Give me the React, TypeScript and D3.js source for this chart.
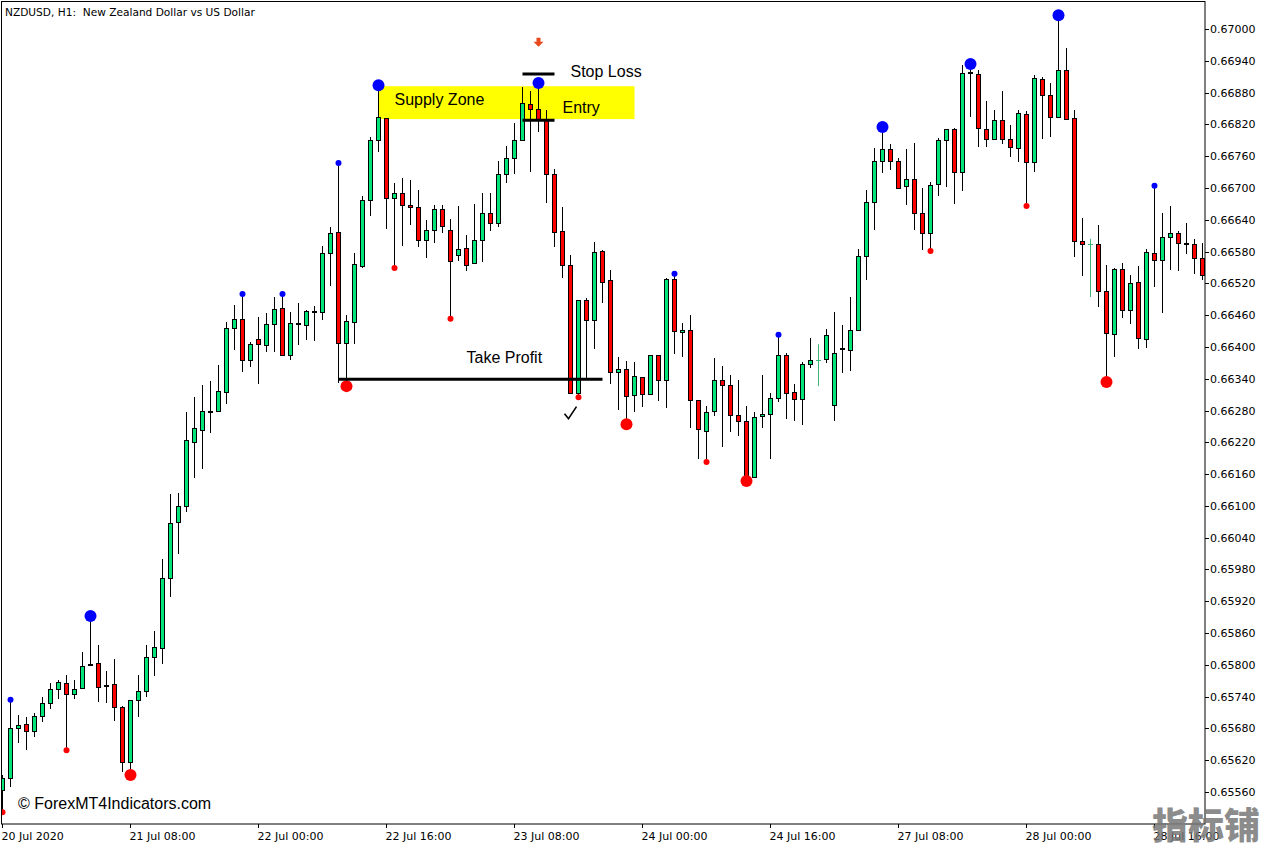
import React from "react";
import * as d3 from "d3";

// NZDUSD H1 candles
const opens = [0.65564, 0.65586, 0.65681, 0.65688, 0.65675, 0.65703, 0.65728, 0.65754, 0.65766, 0.65745, 0.65756, 0.65800, 0.65803, 0.65760, 0.65764, 0.65720, 0.65617, 0.65734, 0.65751, 0.65815, 0.65832, 0.65964, 0.66070, 0.66100, 0.66221, 0.66243, 0.66277, 0.66279, 0.66315, 0.66436, 0.66453, 0.66375, 0.66415, 0.66404, 0.66443, 0.66473, 0.66385, 0.66443, 0.66441, 0.66466, 0.66466, 0.66577, 0.66617, 0.66407, 0.66447, 0.66553, 0.66677, 0.66790, 0.66832, 0.66681, 0.66690, 0.66668, 0.66664, 0.66602, 0.66621, 0.66660, 0.66621, 0.66573, 0.66587, 0.66558, 0.66602, 0.66653, 0.66634, 0.66726, 0.66757, 0.66790, 0.66858, 0.66849, 0.66828, 0.66726, 0.66619, 0.66555, 0.66313, 0.66489, 0.66451, 0.66581, 0.66526, 0.66353, 0.66358, 0.66309, 0.66343, 0.66311, 0.66385, 0.66338, 0.66528, 0.66428, 0.66432, 0.66300, 0.66241, 0.66279, 0.66338, 0.66328, 0.66272, 0.66260, 0.66154, 0.66270, 0.66274, 0.66304, 0.66385, 0.66315, 0.66302, 0.66368, 0.66375, 0.66377, 0.66290, 0.66396, 0.66394, 0.66432, 0.66572, 0.66673, 0.66751, 0.66773, 0.66751, 0.66704, 0.66717, 0.66653, 0.66615, 0.66708, 0.66790, 0.66811, 0.66730, 0.66917, 0.66915, 0.66811, 0.66792, 0.66828, 0.66792, 0.66775, 0.66840, 0.66749, 0.66906, 0.66875, 0.66834, 0.66923, 0.66832, 0.66600, 0.66594, 0.66594, 0.66505, 0.66424, 0.66547, 0.66470, 0.66522, 0.66415, 0.66577, 0.66564, 0.66607, 0.66615, 0.66594, 0.66594, 0.66568];
const highs = [0.65592, 0.65734, 0.65705, 0.65701, 0.65709, 0.65739, 0.65766, 0.65771, 0.65781, 0.65771, 0.65824, 0.65892, 0.65837, 0.65788, 0.65811, 0.65722, 0.65734, 0.65781, 0.65837, 0.65864, 0.66000, 0.66122, 0.66124, 0.66277, 0.66305, 0.66328, 0.66336, 0.66366, 0.66447, 0.66479, 0.66500, 0.66409, 0.66456, 0.66464, 0.66494, 0.66500, 0.66466, 0.66483, 0.66470, 0.66477, 0.66590, 0.66626, 0.66747, 0.66460, 0.66577, 0.66685, 0.66796, 0.66894, 0.66832, 0.66709, 0.66719, 0.66715, 0.66696, 0.66640, 0.66668, 0.66668, 0.66641, 0.66666, 0.66611, 0.66670, 0.66690, 0.66690, 0.66751, 0.66779, 0.66823, 0.66891, 0.66883, 0.66898, 0.66847, 0.66736, 0.66664, 0.66573, 0.66489, 0.66492, 0.66598, 0.66583, 0.66545, 0.66381, 0.66373, 0.66372, 0.66343, 0.66385, 0.66385, 0.66530, 0.66538, 0.66445, 0.66460, 0.66300, 0.66289, 0.66379, 0.66364, 0.66347, 0.66338, 0.66289, 0.66277, 0.66347, 0.66313, 0.66423, 0.66389, 0.66330, 0.66372, 0.66417, 0.66405, 0.66434, 0.66466, 0.66441, 0.66494, 0.66585, 0.66696, 0.66775, 0.66815, 0.66783, 0.66757, 0.66774, 0.66785, 0.66700, 0.66711, 0.66794, 0.66811, 0.66813, 0.66932, 0.66934, 0.66923, 0.66864, 0.66847, 0.66883, 0.66819, 0.66847, 0.66845, 0.66913, 0.66909, 0.66898, 0.67026, 0.66964, 0.66847, 0.66643, 0.66604, 0.66630, 0.66555, 0.66549, 0.66558, 0.66536, 0.66553, 0.66585, 0.66704, 0.66653, 0.66666, 0.66619, 0.66634, 0.66604, 0.66596];
const lows = [0.65522, 0.65569, 0.65652, 0.65639, 0.65664, 0.65692, 0.65717, 0.65736, 0.65639, 0.65736, 0.65756, 0.65798, 0.65730, 0.65728, 0.65694, 0.65598, 0.65592, 0.65701, 0.65739, 0.65779, 0.65802, 0.65928, 0.66009, 0.66088, 0.66153, 0.66170, 0.66238, 0.66277, 0.66292, 0.66394, 0.66353, 0.66362, 0.66330, 0.66390, 0.66390, 0.66385, 0.66375, 0.66404, 0.66413, 0.66411, 0.66451, 0.66515, 0.66332, 0.66326, 0.66405, 0.66549, 0.66647, 0.66768, 0.66623, 0.66549, 0.66590, 0.66630, 0.66588, 0.66568, 0.66596, 0.66615, 0.66453, 0.66562, 0.66543, 0.66558, 0.66560, 0.66619, 0.66626, 0.66709, 0.66726, 0.66790, 0.66730, 0.66806, 0.66672, 0.66588, 0.66530, 0.66313, 0.66305, 0.66339, 0.66396, 0.66483, 0.66330, 0.66281, 0.66254, 0.66277, 0.66287, 0.66311, 0.66298, 0.66285, 0.66387, 0.66381, 0.66247, 0.66189, 0.66183, 0.66270, 0.66211, 0.66239, 0.66232, 0.66147, 0.66154, 0.66247, 0.66189, 0.66296, 0.66264, 0.66260, 0.66253, 0.66360, 0.66326, 0.66370, 0.66260, 0.66351, 0.66355, 0.66430, 0.66526, 0.66621, 0.66728, 0.66734, 0.66700, 0.66668, 0.66621, 0.66583, 0.66581, 0.66685, 0.66702, 0.66670, 0.66694, 0.66834, 0.66777, 0.66777, 0.66792, 0.66783, 0.66758, 0.66749, 0.66666, 0.66730, 0.66792, 0.66796, 0.66834, 0.66828, 0.66570, 0.66534, 0.66494, 0.66475, 0.66334, 0.66381, 0.66455, 0.66443, 0.66396, 0.66398, 0.66513, 0.66464, 0.66545, 0.66543, 0.66575, 0.66538, 0.66526];
const closes = [0.65586, 0.65681, 0.65686, 0.65675, 0.65703, 0.65728, 0.65754, 0.65768, 0.65745, 0.65754, 0.65798, 0.65799, 0.65758, 0.65760, 0.65720, 0.65617, 0.65734, 0.65751, 0.65815, 0.65834, 0.65964, 0.66068, 0.66100, 0.66224, 0.66247, 0.66279, 0.66277, 0.66317, 0.66436, 0.66453, 0.66375, 0.66405, 0.66405, 0.66443, 0.66472, 0.66385, 0.66445, 0.66443, 0.66468, 0.66466, 0.66577, 0.66615, 0.66407, 0.66449, 0.66556, 0.66677, 0.66790, 0.66834, 0.66681, 0.66690, 0.66668, 0.66664, 0.66602, 0.66621, 0.66660, 0.66628, 0.66562, 0.66585, 0.66555, 0.66602, 0.66653, 0.66634, 0.66726, 0.66757, 0.66790, 0.66860, 0.66849, 0.66828, 0.66726, 0.66617, 0.66555, 0.66313, 0.66489, 0.66451, 0.66579, 0.66522, 0.66353, 0.66358, 0.66307, 0.66345, 0.66311, 0.66385, 0.66338, 0.66528, 0.66430, 0.66432, 0.66300, 0.66245, 0.66277, 0.66338, 0.66328, 0.66272, 0.66260, 0.66154, 0.66268, 0.66274, 0.66304, 0.66385, 0.66313, 0.66302, 0.66368, 0.66375, 0.66375, 0.66422, 0.66388, 0.66396, 0.66432, 0.66572, 0.66673, 0.66751, 0.66774, 0.66751, 0.66700, 0.66717, 0.66653, 0.66615, 0.66706, 0.66790, 0.66811, 0.66730, 0.66917, 0.66917, 0.66813, 0.66792, 0.66828, 0.66792, 0.66777, 0.66841, 0.66749, 0.66908, 0.66875, 0.66834, 0.66923, 0.66830, 0.66600, 0.66594, 0.66594, 0.66506, 0.66426, 0.66547, 0.66470, 0.66520, 0.66417, 0.66579, 0.66564, 0.66607, 0.66615, 0.66596, 0.66594, 0.66568, 0.66536];

// bars drawn as thin green crosses (no body outline)
const thinDoji = [102, 136];

// swing markers (bar indexes)
const smallBlue = [1, 30, 35, 42, 84, 97, 144];
const bigBlue = [11, 47, 67, 110, 121, 132];
const smallRed = [0, 8, 49, 56, 72, 88, 116, 128];
const bigRed = [16, 43, 78, 93, 138];

// axis labels
const priceTicks = [0.65560, 0.65620, 0.65680, 0.65740, 0.65800, 0.65860, 0.65920, 0.65980, 0.66040, 0.66100, 0.66160, 0.66220, 0.66280, 0.66340, 0.66400, 0.66460, 0.66520, 0.66580, 0.66640, 0.66700, 0.66760, 0.66820, 0.66880, 0.66940, 0.67000];
const timeBars = [0, 16, 32, 48, 64, 80, 96, 112, 128, 144];
const timeLabels = ["20 Jul 2020", "21 Jul 08:00", "22 Jul 00:00", "22 Jul 16:00", "23 Jul 08:00", "24 Jul 00:00", "24 Jul 16:00", "27 Jul 08:00", "28 Jul 00:00", "28 Jul 16:00"];

// trade setup
const zoneTop = 0.66892;
const zoneBottom = 0.66830;
const zoneBars = [47, 79];
const stopLoss = 0.66915;
const entry = 0.66828;
const slBars = [65, 69];
const takeProfit = 0.66339;
const tpBars = [42, 75];
const arrowBar = 67;
const arrowPrice = 0.66974;
const checkBar = 71;
const checkPrice = 0.66274;

const W = 1275;
const H = 848;
const right = 1205;
const bottom = 824;

const bull = "#00E676";
const bear = "#FF0000";
const axisFont = "'DejaVu Sans', sans-serif";
const labelFont = "'Liberation Sans', Arial, sans-serif";

const App: React.FC = () => {
  const x = d3.scaleLinear().domain([0, 150]).range([2.5, 1202.5]);
  const y = d3.scaleLinear().domain([0.6556, 0.67]).range([792, 29]);

  const candles = opens.map((o, i) => ({ i, o, h: highs[i], l: lows[i], c: closes[i] }));

  return (
    <svg width={W} height={H} style={{ position: "absolute", left: 0, top: 0, background: "#fff" }}>
      <rect x={0} y={0} width={W} height={H} fill="#fff" />

      {/* supply zone */}
      <rect
        x={x(zoneBars[0])}
        y={y(zoneTop)}
        width={x(zoneBars[1]) - x(zoneBars[0])}
        height={y(zoneBottom) - y(zoneTop)}
        fill="#FFFF00"
      />
      <text x={x(49)} y={(y(zoneTop) + y(zoneBottom)) / 2 - 3} dominantBaseline="central" fontFamily={labelFont} fontSize={16} fill="#000">Supply Zone</text>

      {/* candles */}
      <g clipPath="url(#plot)">
        <defs>
          <clipPath id="plot">
            <rect x={2} y={2} width={right - 2} height={bottom - 2} />
          </clipPath>
        </defs>
        {candles.map(d => {
          const cx = x(d.i);
          if (thinDoji.includes(d.i)) {
            return (
              <g key={d.i} stroke="#3CB371" strokeWidth={1}>
                <line x1={cx} x2={cx} y1={y(d.h)} y2={y(d.l)} />
                <line x1={cx - 2.5} x2={cx + 2.5} y1={Math.round(y(d.o)) + 0.5} y2={Math.round(y(d.o)) + 0.5} />
              </g>
            );
          }
          const top = Math.round(y(Math.max(d.o, d.c)));
          const bot = Math.round(y(Math.min(d.o, d.c)));
          const doji = bot - top < 1;
          return (
            <g key={d.i}>
              <line x1={cx} x2={cx} y1={Math.round(y(d.h))} y2={Math.round(y(d.l))} stroke="#000" strokeWidth={1} />
              {doji ? (
                <rect x={cx - 2.5} y={top - 1} width={5} height={2} fill="#000" />
              ) : (
                <rect
                  x={cx - 2}
                  y={top + 0.5}
                  width={4}
                  height={Math.max(1, bot - top)}
                  fill={d.c >= d.o ? bull : bear}
                  stroke="#000"
                  strokeWidth={1}
                />
              )}
            </g>
          );
        })}

        {/* markers */}
        {smallBlue.map(i => <circle key={"sb" + i} cx={x(i)} cy={y(highs[i])} r={3} fill="#0000FF" />)}
        {bigBlue.map(i => <circle key={"bb" + i} cx={x(i)} cy={y(highs[i])} r={6} fill="#0000FF" />)}
        {smallRed.map(i => <circle key={"sr" + i} cx={x(i)} cy={y(lows[i])} r={3} fill="#FF0000" />)}
        {bigRed.map(i => <circle key={"br" + i} cx={x(i)} cy={y(lows[i])} r={6} fill="#FF0000" />)}
      </g>

      {/* stop loss / entry / take profit */}
      <line x1={x(slBars[0])} x2={x(slBars[1])} y1={y(stopLoss)} y2={y(stopLoss)} stroke="#000" strokeWidth={3} />
      <line x1={x(slBars[0])} x2={x(slBars[1])} y1={y(entry)} y2={y(entry)} stroke="#000" strokeWidth={3} />
      <line x1={x(tpBars[0])} x2={x(tpBars[1])} y1={y(takeProfit)} y2={y(takeProfit)} stroke="#000" strokeWidth={3} />
      <text x={x(71)} y={y(stopLoss) - 3} dominantBaseline="central" fontFamily={labelFont} fontSize={16} fill="#000">Stop Loss</text>
      <text x={x(70)} y={y(entry) - 13} dominantBaseline="central" fontFamily={labelFont} fontSize={16} fill="#000">Entry</text>
      <text x={x(58)} y={y(takeProfit) - 22} dominantBaseline="central" fontFamily={labelFont} fontSize={16} fill="#000">Take Profit</text>

      {/* sell arrow */}
      <path
        transform={`translate(${x(arrowBar)},${y(arrowPrice)})`}
        d="M-2,-5 L2,-5 L2,-1 L5,-1 L0,4 L-5,-1 L-2,-1 Z"
        fill="#E8491D"
      />
      {/* check mark */}
      <path
        transform={`translate(${x(checkBar)},${y(checkPrice)})`}
        d="M-6,0 L-2,5 L6,-7"
        fill="none"
        stroke="#000"
        strokeWidth={1.6}
      />

      {/* frame */}
      <rect x={1.5} y={1.5} width={right - 1.5} height={bottom - 1.5} fill="none" stroke="#000" strokeWidth={1} />

      {/* price axis */}
      {priceTicks.map(p => {
        const py = Math.round(y(p)) + 0.5;
        return (
          <g key={p}>
            <line x1={right} x2={right + 4} y1={py} y2={py} stroke="#000" />
            <text x={right + 5} y={py} dominantBaseline="central" fontFamily={axisFont} fontSize={11} fill="#000">{p.toFixed(5)}</text>
          </g>
        );
      })}

      {/* time axis */}
      {timeBars.map((b, k) => (
        <g key={b}>
          <line x1={x(b)} x2={x(b)} y1={bottom} y2={bottom + 4} stroke="#000" />
          <text x={x(b) - 1} y={836} dominantBaseline="central" fontFamily={axisFont} fontSize={11} fill="#000">{timeLabels[k]}</text>
        </g>
      ))}

      {/* title and credits */}
      <text x={5} y={12} dominantBaseline="central" fontFamily={axisFont} fontSize={10.6} fill="#000" style={{ whiteSpace: "pre" }}>NZDUSD, H1:  New Zealand Dollar vs US Dollar</text>
      <text x={18} y={803} dominantBaseline="central" fontFamily={labelFont} fontSize={16} fill="#000">© ForexMT4Indicators.com</text>
      <text x={1152} y={823} dominantBaseline="central" fontFamily="'Noto Sans CJK SC', sans-serif" fontWeight={900} fontSize={36} fill="#777" fillOpacity={0.85}>指标铺</text>
    </svg>
  );
};

export default App;
